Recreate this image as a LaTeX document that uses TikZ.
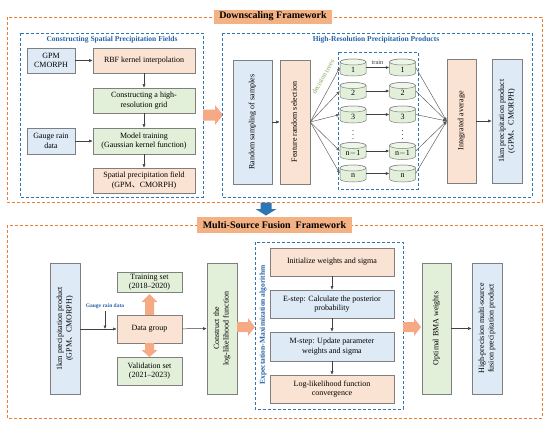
\documentclass[tikz,border=0pt]{standalone}
\usepackage{fontspec}
\usepackage{graphicx}
\setmainfont{Liberation Serif}
\newfontfamily\cjk{Noto Sans CJK SC}
\usetikzlibrary{arrows.meta}
\definecolor{cOF}{HTML}{FBE3D3}
\definecolor{cBF}{HTML}{DEEBF7}
\definecolor{cGF}{HTML}{E2F0D9}
\definecolor{cGE}{HTML}{EEF6E8}
\definecolor{cBorder}{HTML}{7F7F7F}
\definecolor{cOrange}{HTML}{ED7D31}
\definecolor{cBlue}{HTML}{2E75B6}
\definecolor{cSect}{HTML}{2563A6}
\definecolor{cTitle}{HTML}{F4B183}
\definecolor{cArr}{HTML}{F6A985}
\definecolor{cGreenT}{HTML}{7FA85A}
\newcommand{\fs}{\fontsize{8}{9.5}\selectfont}
\newcommand{\vt}[1]{\rotatebox{90}{\begin{tabular}{@{}c@{}}#1\end{tabular}}}
\tikzset{
  base/.style={draw=cBorder, line width=0.6pt, align=center, inner sep=1pt, font=\fs},
  obox/.style={base, fill=cOF},
  bbox/.style={base, fill=cBF},
  gbox/.style={base, fill=cGF},
  arr/.style={-{Latex[length=3.5pt,width=3pt]}, line width=0.5pt, draw=black!75},
  fanarr/.style={-{Latex[length=3.5pt,width=3pt]}, line width=0.45pt, draw=black!65},
  odashed/.style={draw=cOrange, line width=0.9pt, dash pattern=on 3pt off 2pt},
  bdashed/.style={draw=cBlue, line width=0.8pt, dash pattern=on 3pt off 2pt},
  titlebox/.style={fill=cTitle, inner sep=0pt, font=\fontsize{10}{12}\selectfont\bfseries},
  sect/.style={text=cSect, inner sep=0pt, font=\fontsize{7.5}{9}\selectfont\bfseries},
  cylnode/.style={minimum width=26pt, minimum height=17pt, inner sep=0pt, draw=none},
  cylbody/.style={draw=cBorder, line width=0.5pt, fill=cGF},
  cylend/.style={draw=cBorder, line width=0.5pt, fill=cGE},
  pics/fatarr/.style n args={4}{code={
    \fill (0,-#2) -- ({#1-#4},-#2) -- ({#1-#4},-#3) -- (#1,0) -- ({#1-#4},#3) -- ({#1-#4},#2) -- (0,#2) -- cycle;
  }}
}
% cylinder: name, x, y, label
\newcommand{\cylx}[4]{%
  \node[cylnode] (#1) at (#2,#3) {};
  \path[cylbody] ({#2-13},{#3-5.5}) -- ({#2-13},{#3+5.5}) arc(180:0:13 and 3) -- ({#2+13},{#3-5.5}) arc(360:180:13 and 3) -- cycle;
  \path[cylend] (#2,{#3-5.5}) ellipse (13 and 3);
  \node[font=\fs, inner sep=0pt] (#1l) at (#2,{#3+2}) {#4};
}
\begin{document}
\begin{tikzpicture}[x=1pt,y=-1pt]
\useasboundingbox[fill=white] (0,0) rectangle (550,426);

% ---------------- Downscaling framework
\draw[odashed] (7,17) rectangle (542,202);
\node[titlebox, minimum width=118pt, minimum height=14pt] (t1) at (273,16.5) {Downscaling Framework};

\draw[bdashed] (20,33) rectangle (203,197);
\node[sect] (s1) at (112,39.5) {Constructing Spatial Precipitation Fields};
\node[bbox, minimum width=48pt, minimum height=25pt] (gpm) at (51,60.5) {GPM\\CMORPH};
\node[obox, minimum width=102pt, minimum height=25pt] (rbf) at (144,60.5) {RBF kernel interpolation};
\node[gbox, minimum width=102pt, minimum height=25pt] (grid) at (144,100.5) {Constructing a high-\\resolution grid};
\node[bbox, minimum width=48pt, minimum height=26pt] (gauge) at (51,141) {Gauge rain\\data};
\node[gbox, minimum width=102pt, minimum height=26pt] (model) at (144,141) {Model training\\(Gaussian kernel function)};
\node[obox, minimum width=102pt, minimum height=25pt] (spat) at (144,180.5) {Spatial precipitation field\\(GPM{\cjk 、}CMORPH)};
\draw[arr] (gpm) -- (rbf);
\draw[arr] (rbf) -- (grid);
\draw[arr] (grid) -- (model);
\draw[arr] (gauge) -- (model);
\draw[arr] (model) -- (spat);

\pic[fill=cArr] at (203,115) {fatarr={20}{5.5}{10}{8}};

\draw[bdashed] (222,33) rectangle (532,197);
\node[sect] (s2) at (376,39.5) {High-Resolution Precipitation Products};
\node[bbox, minimum width=39pt, minimum height=124pt] (rand) at (252.5,122) {\vt{Random sampling of samples}};
\node[obox, minimum width=30pt, minimum height=124pt] (feat) at (295,122) {\vt{Feature random selection}};
\draw[arr] (rand) -- (feat);

\draw[bdashed] (338,52) rectangle (418,189);
\cylx{a1}{353}{67.5}{1}
\cylx{a2}{353}{91}{2}
\cylx{a3}{353}{114.5}{3}
\cylx{a4}{353}{151}{n$-$1}
\cylx{a5}{353}{173.5}{n}
\cylx{b1}{402.5}{67.5}{1}
\cylx{b2}{402.5}{91}{2}
\cylx{b3}{402.5}{114.5}{3}
\cylx{b4}{402.5}{151}{n$-$1}
\cylx{b5}{402.5}{173.5}{n}
\node[font=\fs, inner sep=0pt] (da) at (353,132) {$\vdots$};
\node[font=\fs, inner sep=0pt] (db) at (402.5,132) {$\vdots$};
\node[font=\fontsize{6.5}{7}\selectfont, text=black!75, inner sep=0pt] (tr) at (377.5,62) {train};
\node[font=\fontsize{7}{8}\selectfont, text=cGreenT, rotate=60, inner sep=0pt] (dt) at (323,77) {decision trees};

\node[obox, minimum width=29pt, minimum height=124pt] (integ) at (461.5,121) {\vt{Integrated average}};
\node[bbox, minimum width=30pt, minimum height=124pt] (prod1) at (507,121) {\vt{1km precipitation product\\(GPM{\cjk 、}CMORPH)}};
\foreach \i in {1,...,5} {
  \draw[fanarr] (feat.east) -- (a\i.west);
  \draw[arr] (a\i) -- (b\i);
  \draw[fanarr] (b\i.east) -- (integ.west);
}
\draw[arr] (integ) -- (prod1);

\pic[fill=cBlue, rotate=-90] at (266,202.5) {fatarr={13}{5.5}{10.5}{6.5}};

% ---------------- Multi-source fusion framework
\draw[odashed] (7,225) rectangle (542,418);
\node[titlebox, minimum width=155pt, minimum height=16pt] (t2) at (274.5,225) {Multi-Source Fusion\ \ Framework};

\node[bbox, minimum width=30pt, minimum height=131pt] (prod2) at (65,328.5) {\vt{1km precipitation product\\(GPM{\cjk 、}CMORPH)}};
\node[gbox, minimum width=65pt, minimum height=20pt] (train) at (149.5,282) {Training set\\(2018–2020)};
\node[obox, minimum width=65pt, minimum height=28pt] (dg) at (149.5,329) {Data group};
\node[gbox, minimum width=65pt, minimum height=28pt] (valid) at (149.5,371) {Validation set\\(2021–2023)};
\node[gbox, minimum width=30pt, minimum height=131pt] (cons) at (222,328.5) {\vt{Construct the\\log-likelihood function}};
\draw[arr] (prod2.east |- dg.west) -- (dg.west);
\node[text=cSect, inner sep=0pt, font=\fontsize{5.5}{6}\selectfont\bfseries] (glab) at (105,306.5) {Gauge rain data};
\coordinate (gj) at (105,329);
\draw[arr] (glab.south) ++(0,1.5) -- (gj);
\draw[arr] (dg) -- (cons);
\pic[fill=cArr, rotate=90] at (149.5,315) {fatarr={21}{4.5}{8}{8}};
\pic[fill=cArr, rotate=-90] at (149.5,343) {fatarr={14}{4.5}{8}{7}};

\pic[fill=cArr] at (237,327) {fatarr={18}{5}{9}{7}};
\draw[bdashed] (255,242) rectangle (403,409);
\node[sect, rotate=90] (s3) at (263,325) {Expectation-Maximization algorithm};
\node[obox, minimum width=124pt, minimum height=28pt] (init) at (332,262) {Initialize weights and sigma};
\node[bbox, minimum width=124pt, minimum height=28pt] (estep) at (332,304) {E-step: Calculate the posterior\\probability};
\node[bbox, minimum width=124pt, minimum height=29pt] (mstep) at (332,346.5) {M-step: Update parameter\\weights and sigma};
\node[obox, minimum width=124pt, minimum height=28pt] (loglik) at (332,389) {Log-likelihood function\\convergence};
\draw[arr] (init) -- (estep);
\draw[arr] (estep) -- (mstep);
\draw[arr] (mstep) -- (loglik);

\pic[fill=cArr] at (403,327) {fatarr={18}{5}{9}{7}};
\node[gbox, minimum width=29pt, minimum height=131pt] (bma) at (436.5,328.5) {\vt{Optimal BMA weights}};
\node[bbox, minimum width=30pt, minimum height=131pt] (hp) at (487,328.5) {\vt{High-precision multi-source\\fusion precipitation product}};
\draw[arr] (bma) -- (hp);
\end{tikzpicture}
\end{document}
